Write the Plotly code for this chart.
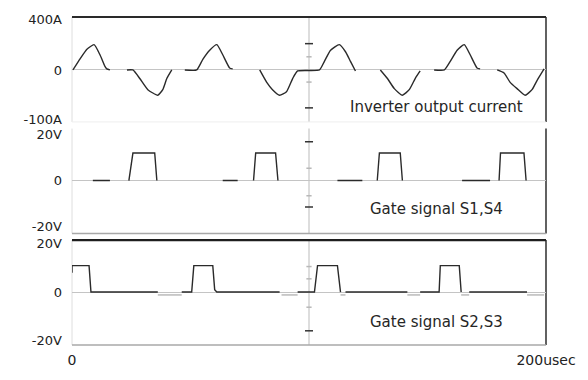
import plotly.graph_objects as go

# ---- Inverter output current (A) vs time (usec); None breaks the trace ----
cur_t = [0.4, 3.4, 6.3, 9.3, 11.8, 13.9, 14.7, 16.0, None,
         23.2, 25.7, 28.6, 32.0, 36.2, 38.3, 40.0, 42.1, None,
         47.6, 52.6, 55.2, 58.1, 61.1, 63.6, 66.5, 67.8, None,
         79.2, 82.1, 84.6, 87.6, 90.5, 93.1, 95.2, 104.4,
         106.5, 109.1, 112.8, 115.4, 117.5, 119.6, None,
         130.1, 133.1, 136.0, 139.4, 142.3, 144.8, 146.9, None,
         152.8, 157.1, 159.6, 162.5, 165.5, 168.0, 170.9, 172.2, None,
         179.4, 182.3, 184.8, 187.8, 191.2, 194.1, 196.2, 199.2]
cur_a = [0, 22, 41, 50, 30, 7, 2, 0, None,
         0, 0, -17, -39, -50, -39, -17, 0, None,
         0, 0, 21, 39, 50, 30, 4, 2, None,
         0, -24, -39, -50, -43, -17, -2, 0,
         17, 39, 50, 36, 17, -2, None,
         0, -17, -37, -50, -39, -17, -2, None,
         0, 0, 17, 39, 50, 30, 4, 2, None,
         0, -6, -24, -37, -50, -39, -21, 2]

# ---- Gate signal S1,S4 (V) ----
s14_t = [8.8, 16.0, None, 24.0, 25.7, 34.9, 35.8, None,
         63.6, 69.9, None, 76.6, 77.5, 85.9, 86.9, None,
         112.0, 122.5, None, 128.8, 129.7, 138.5, 139.4, None,
         164.6, 176.4, None, 180.2, 180.8, 190.7, 191.6]
s14_v = [0, 0, None, 0, 12, 12, 0, None,
         0, 0, None, 0, 12, 12, 0, None,
         0, 0, None, 0, 12, 12, 0, None,
         0, 0, None, 0, 12, 12, 0]

# ---- Gate signal S2,S3 (V): main trace and faint low-level segments ----
s23_t = [0, 0, 7.2, 8.0, 36.2, None,
         46.3, 50.5, 51.4, 59.4, 60.2, 61.1, 87.6, None,
         95.2, 102.3, 103.6, 112.0, 113.3, None,
         115.4, 141.5, None,
         146.9, 154.9, 155.4, 163.4, 164.2, None,
         167.6, 192.0]
s23_v = [8, 11, 11, 0, 0, None,
         0, 0, 11, 11, 1, 0, 0, None,
         0, 0, 11, 11, 0, None,
         0, 0, None,
         0, 0, 11, 11, 0, None,
         0, 0]
s23_faint_t = [36.2, 46.3, None, 88.4, 95.2, None, 113.3, 115.4, None,
               141.5, 146.9, None, 164.2, 167.6, None, 192.0, 199.2]
s23_faint_v = [-1.2, -1.2, None, -1.2, -1.2, None, -1.2, -1.2, None,
               -1.2, -1.2, None, -1.2, -1.2, None, -1.2, -1.2]

# ---- Axis labels ----
x_ticks = [0, 200]
x_ticktext = ["0", "200usec"]
cur_ticks = [100, 0, -98]
cur_ticktext = ["400A", "0", "-100A"]
gate_ticks = [20, 0, -20]
gate_ticktext = ["20V", "0", "-20V"]

# graticule marks on the centre line: (value, dark?)
cur_marks = [(52, True), (26, False), (-24, False), (-75, True)]
s14_marks = [(16.9, True), (5.4, False), (-6.6, False), (-11.5, True)]
s23_marks = [(10.6, False), (5.5, False), (-6.3, False), (-16.1, True)]

FONT = "DejaVu Sans"
TRACE = "#2a2a2a"

fig = go.Figure()
fig.add_trace(go.Scatter(x=cur_t, y=cur_a, mode="lines", xaxis="x", yaxis="y",
                         line=dict(color=TRACE, width=1.4, shape="spline", smoothing=0.5),
                         connectgaps=False))
fig.add_trace(go.Scatter(x=s14_t, y=s14_v, mode="lines", xaxis="x2", yaxis="y2",
                         line=dict(color=TRACE, width=1.4), connectgaps=False))
fig.add_trace(go.Scatter(x=s23_faint_t, y=s23_faint_v, mode="lines", xaxis="x3", yaxis="y3",
                         line=dict(color="#b0b0b0", width=1.3), connectgaps=False))
fig.add_trace(go.Scatter(x=s23_t, y=s23_v, mode="lines", xaxis="x3", yaxis="y3",
                         line=dict(color=TRACE, width=1.4), connectgaps=False))

tickfont = dict(family=FONT, size=13, color="#222")
xcommon = dict(range=[0, 200], showgrid=False, zeroline=False, showline=False,
               ticks="", fixedrange=True)
ycommon = dict(showgrid=False, zeroline=True, zerolinecolor="#c4c4c4", zerolinewidth=1,
               showline=False, ticks="", tickfont=tickfont, ticklabelstandoff=9)

doms = [[0.6801, 1.0], [0.3401, 0.6599], [0.0, 0.3199]]

fig.update_layout(
    width=588, height=380,
    margin=dict(l=72, r=41, t=13, b=20),
    paper_bgcolor="white", plot_bgcolor="white",
    showlegend=False,
    xaxis=dict(xcommon, domain=[0, 1], anchor="y", showticklabels=False),
    xaxis2=dict(xcommon, domain=[0, 1], anchor="y2", showticklabels=False),
    xaxis3=dict(xcommon, domain=[0, 1], anchor="y3", tickvals=x_ticks,
                ticktext=x_ticktext, tickfont=dict(tickfont, size=14), ticklabelstandoff=5),
    yaxis=dict(ycommon, domain=doms[0], anchor="x", range=[-102.8, 104.7],
               tickvals=cur_ticks, ticktext=cur_ticktext),
    yaxis2=dict(ycommon, domain=doms[1], anchor="x2", range=[-23.1, 22.7],
                tickvals=gate_ticks, ticktext=gate_ticktext),
    yaxis3=dict(ycommon, domain=doms[2], anchor="x3", range=[-22.0, 21.6],
                tickvals=gate_ticks, ticktext=gate_ticktext),
)

shapes = []
def dline(ax, x0, y0, x1, y1, color, width):
    shapes.append(dict(type="line", xref=f"x{ax} domain", yref=f"y{ax} domain",
                       x0=x0, y0=y0, x1=x1, y1=y1, layer="below",
                       line=dict(color=color, width=width)))

for ax in ["", "2", "3"]:
    # left edge and centre division line
    dline(ax, 0, 0, 0, 1, "#dedede", 1)
    dline(ax, 0.5, 0, 0.5, 1, "#d2d2d2", 1.5)
    # right frame
    dline(ax, 1, 0, 1, 1, "#3a3a3a", 1.6)

dline("", 0, 1, 1, 1, "#2a2a2a", 2)      # top of current panel
dline("", 0, 0, 1, 0, "#eeeeee", 1)
dline("2", 0, 0, 1, 0, "#a8a8a8", 1.5)
dline("3", 0, 1, 1, 1, "#1e1e1e", 2.2)
dline("3", 0, 0, 1, 0, "#a8a8a8", 1.5)

for ax, marks in [("", cur_marks), ("2", s14_marks), ("3", s23_marks)]:
    for val, dark in marks:
        half = 1.7 if dark else 1.1
        shapes.append(dict(type="line", xref=f"x{ax}", yref=f"y{ax}",
                           x0=100 - half, x1=100 + half, y0=val, y1=val,
                           line=dict(color="#333" if dark else "#b8b8b8", width=1.5)))

fig.update_layout(shapes=shapes)

labels = [("Inverter output current", "x", "y", -74),
          ("Gate signal S1,S4", "x2", "y2", -12.5),
          ("Gate signal S2,S3", "x3", "y3", -12.3)]
for text, xr, yr, yv in labels:
    fig.add_annotation(text=text, x=154, y=yv, xref=xr, yref=yr, showarrow=False,
                       xanchor="center", yanchor="middle",
                       font=dict(family=FONT, size=15, color="#262626"))

fig.write_html("out.html")
